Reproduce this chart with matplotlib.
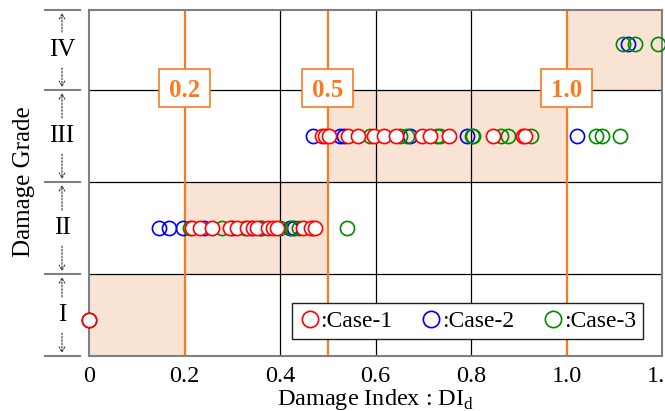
import matplotlib
matplotlib.use("Agg")
import matplotlib.pyplot as plt
from matplotlib.patches import Rectangle

plt.rcParams['font.family'] = ['Liberation Serif', 'DejaVu Serif']
plt.rcParams['mathtext.fontset'] = 'custom'
plt.rcParams['mathtext.rm'] = 'Liberation Serif'

grades = ["I", "II", "III", "IV"]
thresholds = [0.2, 0.5, 1.0]
threshold_labels = ["0.2", "0.5", "1.0"]
xticks = [0, 0.2, 0.4, 0.6, 0.8, 1.0, 1.2]
xtick_labels = ["0", "0.2", "0.4", "0.6", "0.8", "1.0", "1.2"]

# Case-1 (red)
case1_I = [0.0]
case1_II = [0.215, 0.233, 0.258, 0.296, 0.31, 0.33, 0.344, 0.352, 0.375, 0.385, 0.394, 0.449, 0.465, 0.474]
case1_III = [0.488, 0.495, 0.503, 0.543, 0.564, 0.596, 0.617, 0.642, 0.698, 0.715, 0.753, 0.847, 0.908, 0.914]
case1_IV = []
# Case-2 (blue)
case2_I = [0.0]
case2_II = [0.147, 0.168, 0.197, 0.24, 0.30, 0.34, 0.36, 0.42, 0.43]
case2_III = [0.47, 0.526, 0.535, 0.673, 0.792, 1.023]
case2_IV = [1.128]
# Case-3 (green)
case3_I = [0.0]
case3_II = [0.212, 0.279, 0.327, 0.36, 0.40, 0.426, 0.44, 0.47, 0.541]
case3_III = [0.589, 0.652, 0.667, 0.729, 0.736, 0.803, 0.805, 0.862, 0.878, 0.925, 1.061, 1.075, 1.113]
case3_IV = [1.118, 1.143, 1.192]

W, H = 665, 411
L, R, T, B = 89, 662, 10, 356
fig = plt.figure(figsize=(W / 100, H / 100), dpi=100)
ax = fig.add_axes([L / W, 1 - B / H, (R - L) / W, (B - T) / H])
YMIN, YMAX = 0.609, 4.37
ax.set_xlim(0, 1.2)
ax.set_ylim(YMIN, YMAX)
px_x = 1.2 / (R - L)            # data units per pixel (x)
px_y = (YMAX - YMIN) / (B - T)  # data units per pixel (y)

shade = "#F9E3D5"
orange = "#FA7A1E"
bounds = [0.0] + thresholds + [1.2]
for i in range(4):
    ax.add_patch(Rectangle((bounds[i], i + 0.5), bounds[i + 1] - bounds[i], 1.0,
                           facecolor=shade, edgecolor="none", zorder=0))

for x in [0.4, 0.6, 0.8]:
    ax.axvline(x, color="black", lw=0.9, zorder=1)
for y in [1.5, 2.5, 3.5]:
    ax.axhline(y, color="black", lw=0.9, zorder=1)

for t, lab in zip(thresholds, threshold_labels):
    ax.axvline(t, color=orange, lw=1.6, zorder=2)
    bw, bh = 51 * px_x, 38 * px_y
    yc = 3.5 + 2 * px_y
    ax.add_patch(Rectangle((t - bw / 2, yc - bh / 2), bw, bh, facecolor="white",
                           edgecolor=orange, lw=1.2, zorder=6))
    ax.text(t, yc, lab, ha="center", va="center_baseline", color=orange, fontsize=18,
            fontweight="bold", zorder=7)

def plot_case(vals_by_grade, color, label, face):
    xs, ys = [], []
    for g, vals in enumerate(vals_by_grade):
        xs += vals
        ys += [g + 1] * len(vals)
    return ax.plot(xs, ys, "o", markersize=10.2, markerfacecolor=face,
                   markeredgecolor=color, markeredgewidth=1.2, label=label,
                   zorder=4, clip_on=False)[0]

h2 = plot_case([case2_I, case2_II, case2_III, case2_IV], "#0000EE", ":Case-2", "none")
h3 = plot_case([case3_I, case3_II, case3_III, case3_IV], "#008800", ":Case-3", "none")
h1 = plot_case([case1_I, case1_II, case1_III, case1_IV], "#FF0000", ":Case-1", "white")

leg = ax.legend([h1, h2, h3], [":Case-1", ":Case-2", ":Case-3"], ncol=3,
                loc="lower right", bbox_to_anchor=((643 - L) / (R - L), (B - 339) / (B - T)),
                borderaxespad=0, fontsize=17, markerscale=1.15,
                handlelength=0.9, handletextpad=0.0, columnspacing=1.2,
                fancybox=False, framealpha=1, edgecolor="#222222",
                borderpad=0.3)
leg.get_frame().set_linewidth(1.0)
leg.set_zorder(8)

ax.set_xticks(xticks)
ax.set_xticklabels(xtick_labels, fontsize=17.5)
ax.tick_params(axis="x", length=0, pad=7)
ax.set_yticks([])
for s in ["left", "bottom", "top", "right"]:
    ax.spines[s].set_color("#808080")
    ax.spines[s].set_linewidth(1.5)
ax.set_xlabel("Damage Index : DI$_\\mathregular{d}$", fontsize=17.5, labelpad=0)

# Outer grade labels with separators and dashed arrows
trans = ax.get_yaxis_transform()
def x_axes(px):
    return (px - L) / (R - L)
edges = [YMIN, 1.5, 2.5, 3.5, YMAX]
for yb in edges:
    ax.plot([x_axes(45), x_axes(80)], [yb, yb], color="#808080", lw=1.5,
            transform=trans, clip_on=False)
for g, lab in enumerate(grades):
    lo, hi = edges[g], edges[g + 1]
    yc = (lo + hi) / 2
    ax.text(x_axes(62), yc, lab, ha="center", va="center", fontsize=18,
            transform=trans, clip_on=False)
    for start, end in [(yc + 18 * px_y, hi - 3 * px_y), (yc - 18 * px_y, lo + 3 * px_y)]:
        ax.annotate("", xy=(x_axes(62), end), xytext=(x_axes(62), start),
                    xycoords=trans, textcoords=trans,
                    arrowprops=dict(arrowstyle="->,head_length=0.35,head_width=0.2",
                                    linestyle=(0, (1.5, 1.5)), lw=0.8,
                                    color="#333333", shrinkA=0, shrinkB=0))

fig.text(24 / W, 1 - 182 / H, "Damage Grade", rotation=90, ha="center", va="center",
         fontsize=18)

fig.savefig("out.png", dpi=100)
